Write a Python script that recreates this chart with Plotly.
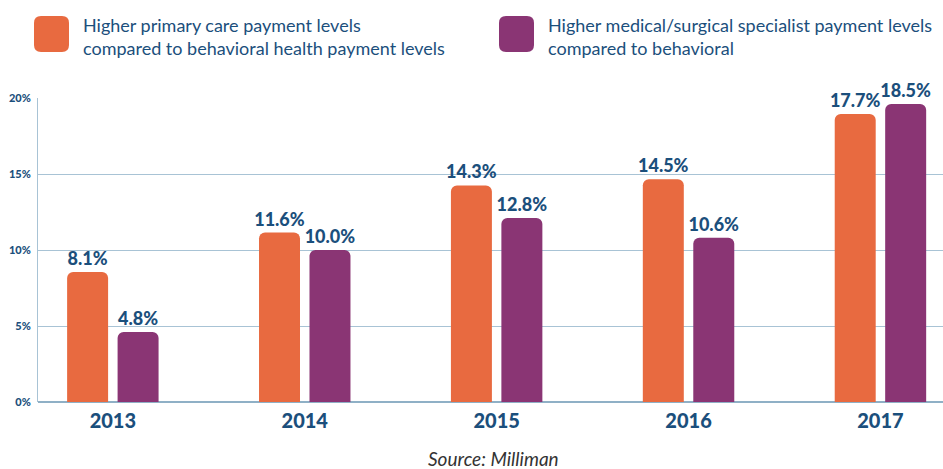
import plotly.graph_objects as go

years = ["2013", "2014", "2015", "2016", "2017"]
primary_care = [8.55, 11.15, 14.25, 14.65, 18.95]
specialist = [4.6, 10.0, 12.1, 10.8, 19.6]
primary_labels = ["8.1%", "11.6%", "14.3%", "14.5%", "17.7%"]
specialist_labels = ["4.8%", "10.0%", "12.8%", "10.6%", "18.5%"]
series_names = [
    "Higher primary care payment levels<br>compared to behavioral health payment levels",
    "Higher medical/surgical specialist payment levels<br>compared to behavioral",
]
y_ticks = [0, 5, 10, 15, 20]
y_tick_labels = ["0%", "5%", "10%", "15%", "20%"]

ORANGE = "#E86A40"
PURPLE = "#8A3574"
NAVY = "#1B4F7C"
GRID = "#A8C3D5"
FONT = "Lato, 'Open Sans', sans-serif"

W, H = 943, 469
L, R, T, B = 38, 0, 98, 67
PW, PH = W - L - R, H - T - B

def px_x(px):
    return (px - L) / PW

def px_y(py):
    return 1 - (py - T) / PH

fig = go.Figure()
fig.add_trace(go.Bar(
    x=years, y=primary_care, text=primary_labels, name=series_names[0],
    marker=dict(color=ORANGE, cornerradius=6, line=dict(width=0)),
    textposition="outside", cliponaxis=False, constraintext="none",
    textfont=dict(family=FONT, size=18, color=NAVY, weight=900),
))
fig.add_trace(go.Bar(
    x=years, y=specialist, text=specialist_labels, name=series_names[1],
    marker=dict(color=PURPLE, cornerradius=6, line=dict(width=0)),
    textposition="outside", cliponaxis=False, constraintext="none",
    textfont=dict(family=FONT, size=18, color=NAVY, weight=900),
))

fig.update_layout(
    width=W, height=H,
    margin=dict(l=L, r=R, t=T, b=B, autoexpand=False),
    paper_bgcolor="white", plot_bgcolor="white",
    barmode="group", bargap=0.474, bargroupgap=0.188,
    showlegend=False,
    font=dict(family=FONT, color=NAVY),
)
fig.update_xaxes(
    type="category", range=[-0.39, 4.326],
    showgrid=False, showline=False, zeroline=False, ticks="",
    tickfont=dict(family=FONT, size=20, color=NAVY, weight=900),
    ticklabelstandoff=5,
)
fig.update_yaxes(
    range=[0, 20], tickvals=y_ticks, ticktext=y_tick_labels,
    showgrid=True, gridcolor=GRID, gridwidth=1,
    showline=True, linecolor=GRID, linewidth=1,
    zeroline=True, zerolinecolor="#8FB0C6", zerolinewidth=1.5,
    ticks="", tickfont=dict(family=FONT, size=11, color=NAVY, weight=900),
    ticklabelstandoff=4,
)

# legend swatches (rounded squares, pixel-sized) and texts
hw, hh, r = 17.5, 18, 7
sq = (f"M{-hw+r},{-hh} L{hw-r},{-hh} Q{hw},{-hh} {hw},{-hh+r} "
      f"L{hw},{hh-r} Q{hw},{hh} {hw-r},{hh} L{-hw+r},{hh} "
      f"Q{-hw},{hh} {-hw},{hh-r} L{-hw},{-hh+r} Q{-hw},{-hh} {-hw+r},{-hh} Z")
for (x0, color, name) in [(34, ORANGE, series_names[0]), (499, PURPLE, series_names[1])]:
    fig.add_shape(type="path", xref="paper", yref="paper", layer="above",
                  xsizemode="pixel", ysizemode="pixel",
                  xanchor=px_x(x0 + 17.5), yanchor=px_y(34),
                  path=sq, fillcolor=color, line=dict(width=0))
    fig.add_annotation(xref="paper", yref="paper",
                       x=px_x(x0 + 47), y=px_y(36.5),
                       text=name, showarrow=False, xanchor="left", yanchor="middle",
                       align="left", font=dict(family=FONT, size=18, color=NAVY))

fig.add_annotation(xref="paper", yref="paper",
                   x=px_x(493), y=px_y(458),
                   text="<i>Source: Milliman</i>", showarrow=False,
                   xanchor="center", yanchor="middle",
                   font=dict(family=FONT, size=19, color="#333333"))

fig.write_html("out.html", config={"displayModeBar": False},
               post_script="document.body.style.margin='0';")
